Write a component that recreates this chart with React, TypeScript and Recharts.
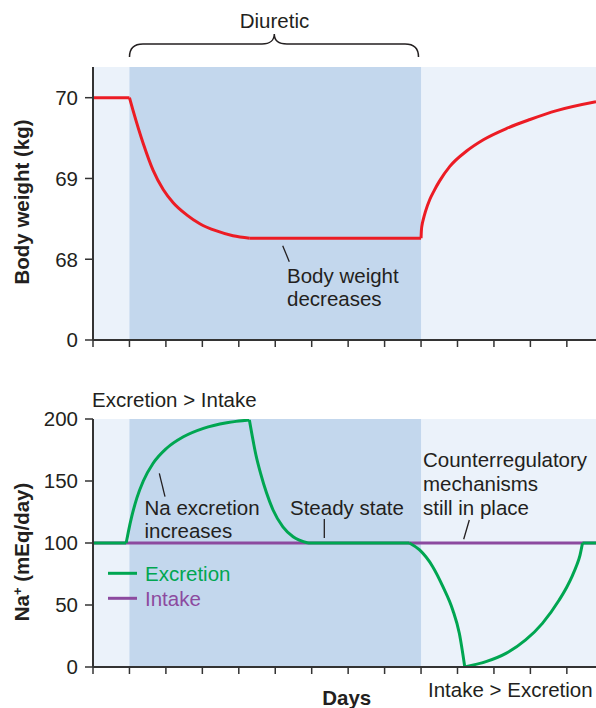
import React from 'react';
import { LineChart, Line, XAxis, YAxis, ReferenceArea } from 'recharts';

// ---------- shared axis data ----------
const dayTicks = [0, 1, 2, 3, 4, 5, 6, 7, 8, 9, 10, 11, 12, 13];
const dayMax = 13.8;
const diureticStart = 1;
const diureticEnd = 9;

// ---------- body weight (kg) ----------
const weightTicks = [67, 68, 69, 70];
const weightTickLabels = ['0', '68', '69', '70'];
const weightDomain = [67, 70.38];

const wtBaseDays = [0, 1];
const wtBaseKg = [70, 70];
const wtDropDays = [1, 1.1, 1.38, 1.65, 1.93, 2.2, 2.57, 2.93, 3.39, 3.84, 4.3];
const wtDropKg = [70, 69.84, 69.43, 69.1, 68.86, 68.7, 68.55, 68.44, 68.35, 68.29, 68.26];
const wtPlateauDays = [4.3, 9];
const wtPlateauKg = [68.26, 68.26];
const wtRecoveryDays = [9, 9.01, 9.03, 9.06, 9.12, 9.24, 9.36, 9.51, 9.79, 10.25, 10.71, 11.35, 11.99, 12.72, 13.8];
const wtRecoveryKg = [68.26, 68.36, 68.43, 68.49, 68.59, 68.74, 68.85, 68.97, 69.15, 69.34, 69.48, 69.62, 69.73, 69.84, 69.95];

// ---------- sodium (mEq/day) ----------
const naTicks = [0, 50, 100, 150, 200];
const intakeDays = [0, 13.8];
const intakeNa = [100, 100];

const exBaseDays = [0, 0.91];
const exBaseNa = [100, 100];
const exRiseDays = [0.91, 0.97, 1.06, 1.2, 1.38, 1.65, 2.02, 2.48, 3.03, 3.67, 4.29];
const exRiseNa = [100, 109, 121, 136, 150, 164.3, 176.4, 185.7, 192.5, 197, 199.2];
const exFallDays = [4.29, 4.37, 4.47, 4.6, 4.76, 4.94, 5.21, 5.49, 5.9];
const exFallNa = [199.2, 186, 171, 156, 140.5, 126.6, 113, 105, 100];
const exSteadyDays = [5.9, 8.68];
const exSteadyNa = [100, 100];
const exDipDays = [8.68, 8.96, 9.32, 9.6, 9.87, 10.05, 10.2];
const exDipNa = [100, 94.4, 80.9, 64.8, 46, 27.2, 0];
const exRecoverDays = [10.2, 10.78, 11.33, 11.87, 12.33, 12.79, 13.0, 13.15, 13.27, 13.36, 13.43];
const exRecoverNa = [0, 4.3, 11, 21.8, 35.2, 54, 64.5, 73.5, 82, 90, 100];
const exEndDays = [13.43, 13.8];
const exEndNa = [100, 100];

const legendLabels = ['Excretion', 'Intake'];

// ---------- styling ----------
const FONT = '"Liberation Sans", Arial, Helvetica, sans-serif';
const TEXT = '#231F20';
const AXIS = '#333333';
const RED = '#EC1C24';
const GREEN = '#00A651';
const PURPLE = '#8C4A9F';
const BG_LIGHT = '#EBF2FA';
const BG_DARK = '#C3D7ED';
const FS = 20.5;

const zip = (xs: number[], ys: number[]) => xs.map((d, i) => ({ day: d, v: ys[i] }));

const axisLine = { stroke: AXIS, strokeWidth: 2 };
const tickLine = { stroke: AXIS, strokeWidth: 1.5 };

function seg(key: string, data: { day: number; v: number }[], color: string, curved: boolean) {
  return (
    <Line
      key={key}
      data={data}
      dataKey="v"
      type={curved ? 'monotone' : 'linear'}
      stroke={color}
      strokeWidth={3}
      dot={false}
      activeDot={false}
      isAnimationActive={false}
      legendType="none"
    />
  );
}

function WeightChart() {
  return (
    <LineChart width={596} height={370} margin={{ top: 67, right: 0, bottom: 10, left: 0 }}>
      <XAxis
        dataKey="day"
        type="number"
        domain={[0, dayMax]}
        ticks={dayTicks}
        allowDataOverflow
        tickFormatter={() => ''}
        tickSize={7}
        height={20}
        axisLine={axisLine}
        tickLine={tickLine}
      />
      <YAxis
        type="number"
        domain={weightDomain}
        ticks={weightTicks}
        allowDataOverflow
        width={93}
        tickSize={8}
        tickMargin={7}
        tickFormatter={(v: number) => weightTickLabels[weightTicks.indexOf(v)] ?? String(v)}
        tick={{ fill: TEXT, fontSize: FS, fontFamily: FONT }}
        axisLine={axisLine}
        tickLine={tickLine}
      />
      <ReferenceArea x1={0} x2={dayMax} fill={BG_LIGHT} fillOpacity={1} stroke="none" ifOverflow="visible" />
      <ReferenceArea x1={diureticStart} x2={diureticEnd} fill={BG_DARK} fillOpacity={1} stroke="none" ifOverflow="visible" />
      {seg('wb', zip(wtBaseDays, wtBaseKg), RED, false)}
      {seg('wd', zip(wtDropDays, wtDropKg), RED, true)}
      {seg('wp', zip(wtPlateauDays, wtPlateauKg), RED, false)}
      {seg('wr', zip(wtRecoveryDays, wtRecoveryKg), RED, true)}
    </LineChart>
  );
}

function SodiumChart() {
  return (
    <LineChart width={596} height={328} margin={{ top: 39, right: 0, bottom: 21, left: 0 }}>
      <XAxis
        dataKey="day"
        type="number"
        domain={[0, dayMax]}
        ticks={dayTicks}
        allowDataOverflow
        tickFormatter={() => ''}
        tickSize={7}
        height={20}
        axisLine={axisLine}
        tickLine={tickLine}
      />
      <YAxis
        type="number"
        domain={[0, 200]}
        ticks={naTicks}
        allowDataOverflow
        width={93}
        tickSize={8}
        tickMargin={7}
        tick={{ fill: TEXT, fontSize: FS, fontFamily: FONT }}
        axisLine={axisLine}
        tickLine={tickLine}
      />
      <ReferenceArea x1={0} x2={dayMax} fill={BG_LIGHT} fillOpacity={1} stroke="none" ifOverflow="visible" />
      <ReferenceArea x1={diureticStart} x2={diureticEnd} fill={BG_DARK} fillOpacity={1} stroke="none" ifOverflow="visible" />
      {seg('in', zip(intakeDays, intakeNa), PURPLE, false)}
      {seg('eb', zip(exBaseDays, exBaseNa), GREEN, false)}
      {seg('er', zip(exRiseDays, exRiseNa), GREEN, true)}
      {seg('ef', zip(exFallDays, exFallNa), GREEN, true)}
      {seg('es', zip(exSteadyDays, exSteadyNa), GREEN, false)}
      {seg('ed', zip(exDipDays, exDipNa), GREEN, true)}
      {seg('ec', zip(exRecoverDays, exRecoverNa), GREEN, true)}
      {seg('ee', zip(exEndDays, exEndNa), GREEN, false)}
    </LineChart>
  );
}

function Overlay() {
  const t = { fontFamily: FONT, fontSize: FS, fill: TEXT } as const;
  return (
    <svg
      width={596}
      height={708}
      style={{ position: 'absolute', left: 0, top: 0, pointerEvents: 'none' }}
    >
      {/* Top chart annotations */}
      <text {...t} x={274.5} y={28} textAnchor="middle">Diuretic</text>
      <path
        d="M129.5,57 C129.5,49 134,44 143,44 L262,44 C270,44 274.3,40 274.3,34 C274.3,40 278.5,44 287,44 L405,44 C414,44 418.5,49 418.5,57"
        fill="none"
        stroke={TEXT}
        strokeWidth={1.5}
      />
      <text {...t} x={287} y={283}>Body weight</text>
      <text {...t} x={287} y={306}>decreases</text>
      <line x1={282.7} y1={245.7} x2={289.3} y2={261.7} stroke={TEXT} strokeWidth={1.3} />
      <text {...t} fontWeight="bold" transform="translate(29,202) rotate(-90)" textAnchor="middle">
        Body weight (kg)
      </text>

      {/* Bottom chart annotations */}
      <text {...t} x={92} y={407}>Excretion &gt; Intake</text>
      <text {...t} x={144.5} y={515}>Na excretion</text>
      <text {...t} x={144.5} y={538}>increases</text>
      <line x1={159.3} y1={473.3} x2={165} y2={496.7} stroke={TEXT} strokeWidth={1.3} />
      <text {...t} x={290} y={515}>Steady state</text>
      <line x1={324.3} y1={519} x2={324.3} y2={538} stroke={TEXT} strokeWidth={1.3} />
      <text {...t} x={423} y={467}>Counterregulatory</text>
      <text {...t} x={423} y={491}>mechanisms</text>
      <text {...t} x={423} y={515}>still in place</text>
      <line x1={469.3} y1={520} x2={463.7} y2={539.3} stroke={TEXT} strokeWidth={1.3} />
      <text {...t} x={428} y={697}>Intake &gt; Excretion</text>
      <text {...t} fontWeight="bold" x={346.7} y={705} textAnchor="middle">Days</text>
      <text {...t} fontWeight="bold" transform="translate(29,552) rotate(-90)" textAnchor="middle">
        Na<tspan baselineShift="super" fontSize={13}>+</tspan> (mEq/day)
      </text>

      {/* Legend */}
      <line x1={108} y1={573.3} x2={137} y2={573.3} stroke={GREEN} strokeWidth={3} />
      <text {...t} x={145} y={581} fill={GREEN}>{legendLabels[0]}</text>
      <line x1={108} y1={598.3} x2={137} y2={598.3} stroke={PURPLE} strokeWidth={3} />
      <text {...t} x={145} y={606} fill={PURPLE}>{legendLabels[1]}</text>
    </svg>
  );
}

export default function App() {
  return (
    <div
      style={{
        position: 'absolute',
        left: 0,
        top: 0,
        width: 596,
        height: 708,
        background: '#ffffff',
        overflow: 'hidden',
        fontFamily: FONT,
      }}
    >
      <div style={{ position: 'absolute', left: 0, top: 0 }}>
        <WeightChart />
      </div>
      <div style={{ position: 'absolute', left: 0, top: 380 }}>
        <SodiumChart />
      </div>
      <Overlay />
    </div>
  );
}
